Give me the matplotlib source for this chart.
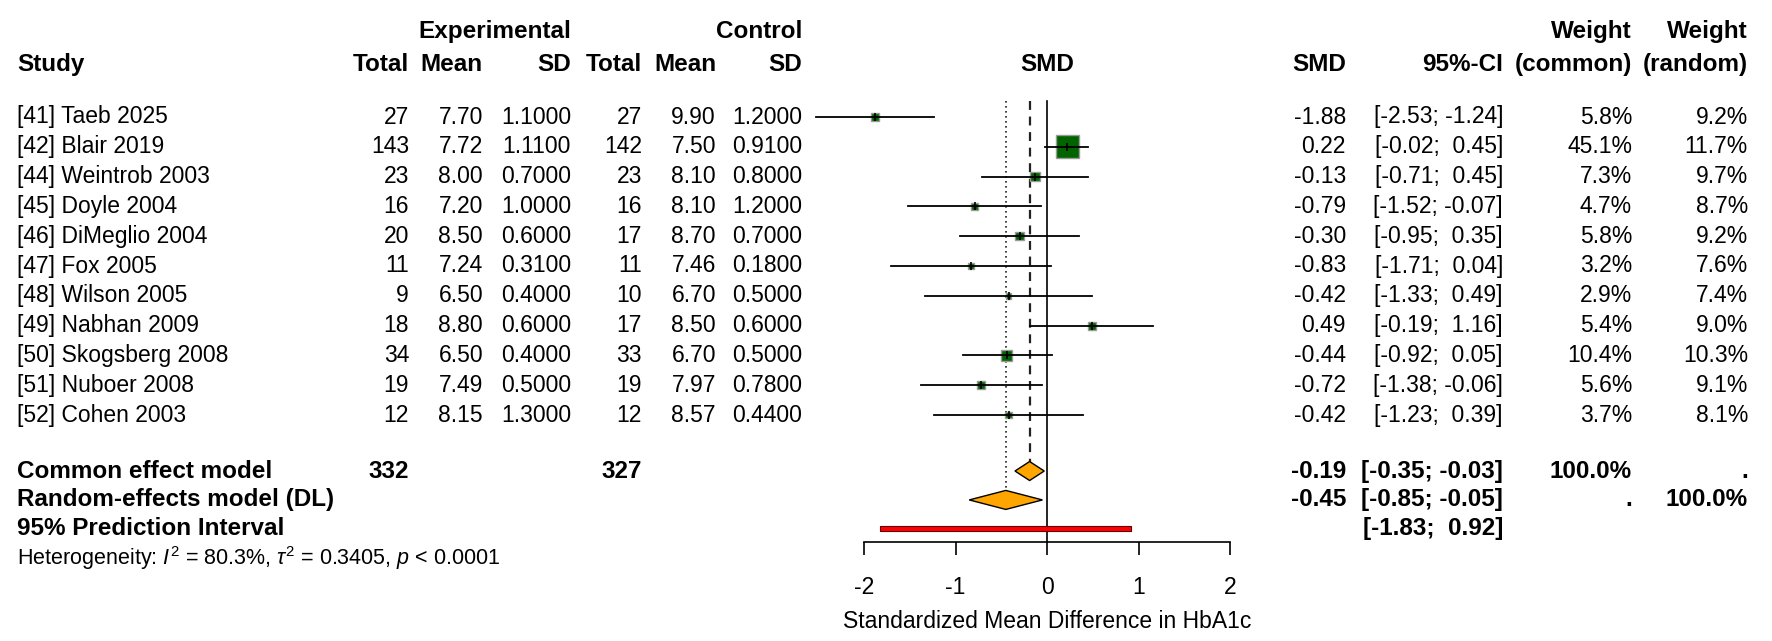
import numpy as np
import matplotlib
matplotlib.use("Agg")
import matplotlib.pyplot as plt
from matplotlib.patches import Rectangle, Polygon
from matplotlib.transforms import blended_transform_factory

plt.rcParams['font.family'] = ['Liberation Sans', 'DejaVu Sans']
plt.rcParams['mathtext.fontset'] = 'custom'
plt.rcParams['mathtext.rm'] = 'Liberation Sans'
plt.rcParams['mathtext.it'] = 'Liberation Sans:italic'
plt.rcParams['mathtext.bf'] = 'Liberation Sans:bold'

# ---- data ----
studies = ["[41] Taeb 2025", "[42] Blair 2019", "[44] Weintrob 2003", "[45] Doyle 2004",
           "[46] DiMeglio 2004", "[47] Fox 2005", "[48] Wilson 2005", "[49] Nabhan 2009",
           "[50] Skogsberg 2008", "[51] Nuboer 2008", "[52] Cohen 2003"]
e_total = [27, 143, 23, 16, 20, 11, 9, 18, 34, 19, 12]
e_mean = [7.70, 7.72, 8.00, 7.20, 8.50, 7.24, 6.50, 8.80, 6.50, 7.49, 8.15]
e_sd = [1.10, 1.11, 0.70, 1.00, 0.60, 0.31, 0.40, 0.60, 0.40, 0.50, 1.30]
c_total = [27, 142, 23, 16, 17, 11, 10, 17, 33, 19, 12]
c_mean = [9.90, 7.50, 8.10, 8.10, 8.70, 7.46, 6.70, 8.50, 6.70, 7.97, 8.57]
c_sd = [1.20, 0.91, 0.80, 1.20, 0.70, 0.18, 0.50, 0.60, 0.50, 0.78, 0.44]
smd = [-1.88, 0.22, -0.13, -0.79, -0.30, -0.83, -0.42, 0.49, -0.44, -0.72, -0.42]
ci_lo = [-2.53, -0.02, -0.71, -1.52, -0.95, -1.71, -1.33, -0.19, -0.92, -1.38, -1.23]
ci_hi = [-1.24, 0.45, 0.45, -0.07, 0.35, 0.04, 0.49, 1.16, 0.05, -0.06, 0.39]
w_common = [5.8, 45.1, 7.3, 4.7, 5.8, 3.2, 2.9, 5.4, 10.4, 5.6, 3.7]
w_random = [9.2, 11.7, 9.7, 8.7, 9.2, 7.6, 7.4, 9.0, 10.3, 9.1, 8.1]

common = (-0.19, -0.35, -0.03)
random_eff = (-0.45, -0.85, -0.05)
pred_int = (-1.83, 0.92)
n_e_total, n_c_total = 332, 327
het_text = r"Heterogeneity: $I^2$ = 80.3%, $\tau^2$ = 0.3405, $p$ < 0.0001"
xticks = [-2, -1, 0, 1, 2]
xlabel = "Standardized Mean Difference in HbA1c"

# ---- layout (pixels) ----
W, H = 1772, 641
x0_px, unit_px = 1047, 91.5      # x=0 position and px per SMD unit
row0_px, row_px = 117, 29.8      # first study row and row spacing
FS = 16.5
FS_B = 17.5
FS_HET = 15.5

fig = plt.figure(figsize=(W / 100, H / 100), dpi=100)
ax = fig.add_axes([0, 0, 1, 1])
ax.set_xlim(-x0_px / unit_px, (W - x0_px) / unit_px)
ax.set_ylim((H - row0_px) / row_px, -row0_px / row_px)
ax.axis('off')

tr = blended_transform_factory(fig.transFigure, ax.transData)


def col(px):
    return px / W


def put(px, row, s, ha='right', bold=False, size=None):
    if size is None:
        size = FS_B if bold else FS
    ax.text(col(px), row, s, transform=tr, ha=ha, va='center', fontsize=size,
            fontweight='bold' if bold else 'normal')


# column right edges
c_study, c_et, c_em, c_es = 17, 409, 483, 571
c_ct, c_cm, c_cs = 642, 716, 802
c_smd, c_ci, c_wc, c_wr = 1346, 1503, 1632, 1748

# headers
put(c_es, -2.88, "Experimental", bold=True)
put(c_cs, -2.88, "Control", bold=True)
put(c_wc, -2.88, "Weight", bold=True)
put(c_wr, -2.88, "Weight", bold=True)
hrow = -1.76
put(c_study, hrow, "Study", ha='left', bold=True)
for px, s in [(c_et, "Total"), (c_em, "Mean"), (c_es, "SD"), (c_ct, "Total"),
              (c_cm, "Mean"), (c_cs, "SD"), (c_smd, "SMD"), (c_ci, "95%-CI"),
              (c_wc, "(common)"), (c_wr, "(random)")]:
    put(px, hrow, s, bold=True)
ax.text(0, hrow, "SMD", ha='center', va='center', fontsize=FS_B, fontweight='bold')


def fmt_ci(lo, hi):
    return f"[{lo:5.2f}; {hi:5.2f}]"


# study rows
for i, name in enumerate(studies):
    put(c_study, i, name, ha='left')
    put(c_et, i, f"{e_total[i]}")
    put(c_em, i, f"{e_mean[i]:.2f}")
    put(c_es, i, f"{e_sd[i]:.4f}")
    put(c_ct, i, f"{c_total[i]}")
    put(c_cm, i, f"{c_mean[i]:.2f}")
    put(c_cs, i, f"{c_sd[i]:.4f}")
    put(c_smd, i, f"{smd[i]:.2f}")
    put(c_ci, i, fmt_ci(ci_lo[i], ci_hi[i]))
    put(c_wc, i, f"{w_common[i]:.1f}%")
    put(c_wr, i, f"{w_random[i]:.1f}%")

    side = 23 * np.sqrt(w_common[i] / max(w_common))
    wd, ht = side / unit_px, side / row_px
    ax.add_patch(Rectangle((smd[i] - wd / 2, i - ht / 2), wd, ht,
                           facecolor='#006400', edgecolor='#9a9a9a', lw=1, zorder=3))
    ax.plot([ci_lo[i], ci_hi[i]], [i, i], color='black', lw=1.3, zorder=4)
    ax.plot(smd[i], i, marker='|', color='black', ms=6, mew=1.2, zorder=5)

# summary rows
r_com, r_ran, r_pi, r_het = 11.88, 12.85, 13.8, 14.8
put(c_study, r_com, "Common effect model", ha='left', bold=True)
put(c_et, r_com, f"{n_e_total}", bold=True)
put(c_ct, r_com, f"{n_c_total}", bold=True)
put(c_smd, r_com, f"{common[0]:.2f}", bold=True)
put(c_ci, r_com, fmt_ci(common[1], common[2]), bold=True)
put(c_wc, r_com, "100.0%", bold=True)
put(c_wr, r_com, ".", bold=True)

put(c_study, r_ran, "Random-effects model (DL)", ha='left', bold=True)
put(c_smd, r_ran, f"{random_eff[0]:.2f}", bold=True)
put(c_ci, r_ran, fmt_ci(random_eff[1], random_eff[2]), bold=True)
put(c_wc, r_ran, ".", bold=True)
put(c_wr, r_ran, "100.0%", bold=True)

put(c_study, r_pi, "95% Prediction Interval", ha='left', bold=True)
put(c_ci, r_pi, fmt_ci(*pred_int), bold=True)

put(c_study, r_het, het_text, ha='left', size=FS_HET)

dh = 9.5 / row_px
for (est, lo, hi), r in [(common, r_com), (random_eff, r_ran)]:
    ax.add_patch(Polygon([(lo, r), (est, r - dh), (hi, r), (est, r + dh)],
                         closed=True, facecolor='#FFA500', edgecolor='black', lw=1, zorder=3))

ph = 5 / row_px
ax.add_patch(Rectangle((pred_int[0], r_pi - ph / 2), pred_int[1] - pred_int[0], ph,
                       facecolor='#FF0000', edgecolor='#600000', lw=0.8, zorder=3))

# reference lines
axis_px = 542
axis_row = (axis_px - row0_px) / row_px
top_row = -0.55
ax.plot([0, 0], [top_row, axis_row], color='black', lw=1.2, zorder=2)
ax.plot([common[0]] * 2, [top_row, r_com - dh], color='#222222', lw=1.6,
        ls=(0, (4, 3)), zorder=1)
ax.plot([random_eff[0]] * 2, [top_row, r_ran - dh], color='#222222', lw=1.2,
        ls=(0, (1, 2)), zorder=1)

# bottom axis
y_axis_frac = 1 - axis_px / H
axx = fig.add_axes([(x0_px - 2 * unit_px) / W, y_axis_frac, 4 * unit_px / W, 1e-4])
axx.set_xlim(-2, 2)
axx.set_xticks(xticks)
axx.set_xticklabels([str(t) for t in xticks], fontsize=FS)
axx.set_yticks([])
axx.patch.set_visible(False)
for s in ['top', 'left', 'right']:
    axx.spines[s].set_visible(False)
axx.spines['bottom'].set_linewidth(1.2)
axx.tick_params(axis='x', direction='out', length=9.5, width=1.2, pad=15)
axx.set_xlabel(xlabel, fontsize=FS, labelpad=8)

fig.savefig("out.png", dpi=100)
